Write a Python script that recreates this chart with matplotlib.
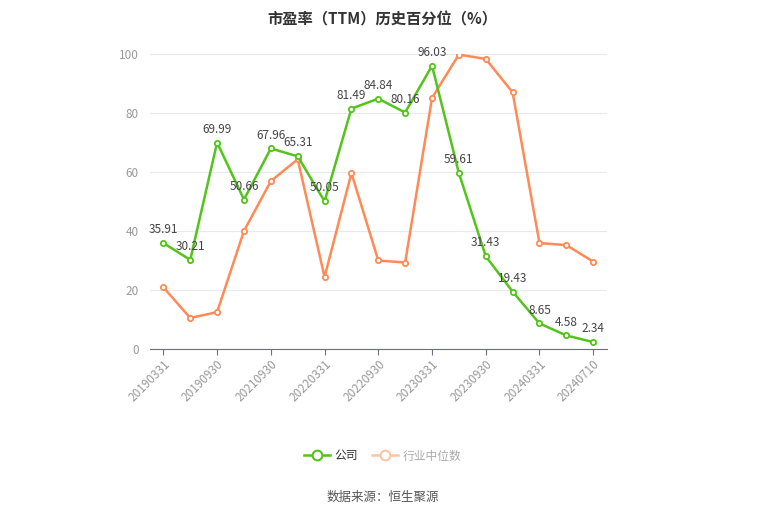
import numpy as np
import matplotlib
matplotlib.use("Agg")
import matplotlib.pyplot as plt
from matplotlib.lines import Line2D

plt.rcParams['font.family'] = ['Noto Sans CJK SC', 'DejaVu Sans']

dates = ["20190331", "20190630", "20190930", "20201231", "20210930", "20211231",
         "20220331", "20220630", "20220930", "20221231", "20230331", "20230630",
         "20230930", "20231231", "20240331", "20240630", "20240710"]
company = [35.91, 30.21, 69.99, 50.66, 67.96, 65.31, 50.05, 81.49, 84.84, 80.16,
           96.03, 59.61, 31.43, 19.43, 8.65, 4.58, 2.34]
industry = [20.9, 10.5, 12.5, 40.0, 56.9, 64.3, 24.4, 59.6, 30.0, 29.3,
            85.1, 99.8, 98.3, 87.0, 35.9, 35.2, 29.6]

green = "#52c41a"
orange = "#ff8a55"

fig = plt.figure(figsize=(7.65, 5.17), dpi=100)
ax = fig.add_axes([0.196, 0.325, 0.597, 0.5706])

x = np.arange(len(dates))
ax.plot(x, industry, color=orange, lw=1.8, marker="o", ms=3.8,
        mfc="white", mec=orange, mew=1.3, zorder=3)
ax.plot(x, company, color=green, lw=1.8, marker="o", ms=3.8,
        mfc="white", mec=green, mew=1.3, zorder=4)

for xi, v in zip(x, company):
    ax.annotate(f"{v:.2f}", (xi, v), xytext=(0, 5), textcoords="offset points",
                ha="center", va="bottom", fontsize=8.5, color="#444444", zorder=5)

ax.set_xlim(-0.5, len(dates) - 0.5)
ax.set_ylim(0, 100)
ax.set_yticks([0, 20, 40, 60, 80, 100])
ax.set_xticks(x[::2])
ax.set_xticklabels(dates[::2], rotation=45, ha="right", rotation_mode="anchor",
                   fontsize=8.5, color="#999999")
ax.tick_params(axis="y", length=0, labelsize=8.5, labelcolor="#999999", pad=8)
ax.tick_params(axis="x", length=4, color="#6e7079", pad=2)
ax.grid(axis="y", color="#e6e9f2", lw=0.8)
ax.set_axisbelow(True)
for s in ["top", "right", "left"]:
    ax.spines[s].set_visible(False)
ax.spines["bottom"].set_color("#6e7079")

fig.text(0.5, 0.978, "市盈率（TTM）历史百分位（%）", ha="center", va="top",
         fontsize=11, fontweight="bold", color="#333333")

handles = [Line2D([], [], color=green, lw=1.8, marker="o", ms=7, mfc="white", mec=green, mew=1.5),
           Line2D([], [], color="#ffc3a6", lw=1.8, marker="o", ms=7, mfc="white", mec="#ffc3a6", mew=1.5)]
leg = fig.legend(handles, ["公司", "行业中位数"], loc="center", bbox_to_anchor=(0.5, 0.118),
                 ncol=2, frameon=False, fontsize=8.5, handlelength=2.2, columnspacing=1.2,
                 handletextpad=0.4)
leg.get_texts()[0].set_color("#333333")
leg.get_texts()[1].set_color("#aaaaaa")

fig.text(0.5, 0.037, "数据来源：恒生聚源", ha="center", va="center", fontsize=9, color="#555555")

fig.savefig("out.png", dpi=100)
